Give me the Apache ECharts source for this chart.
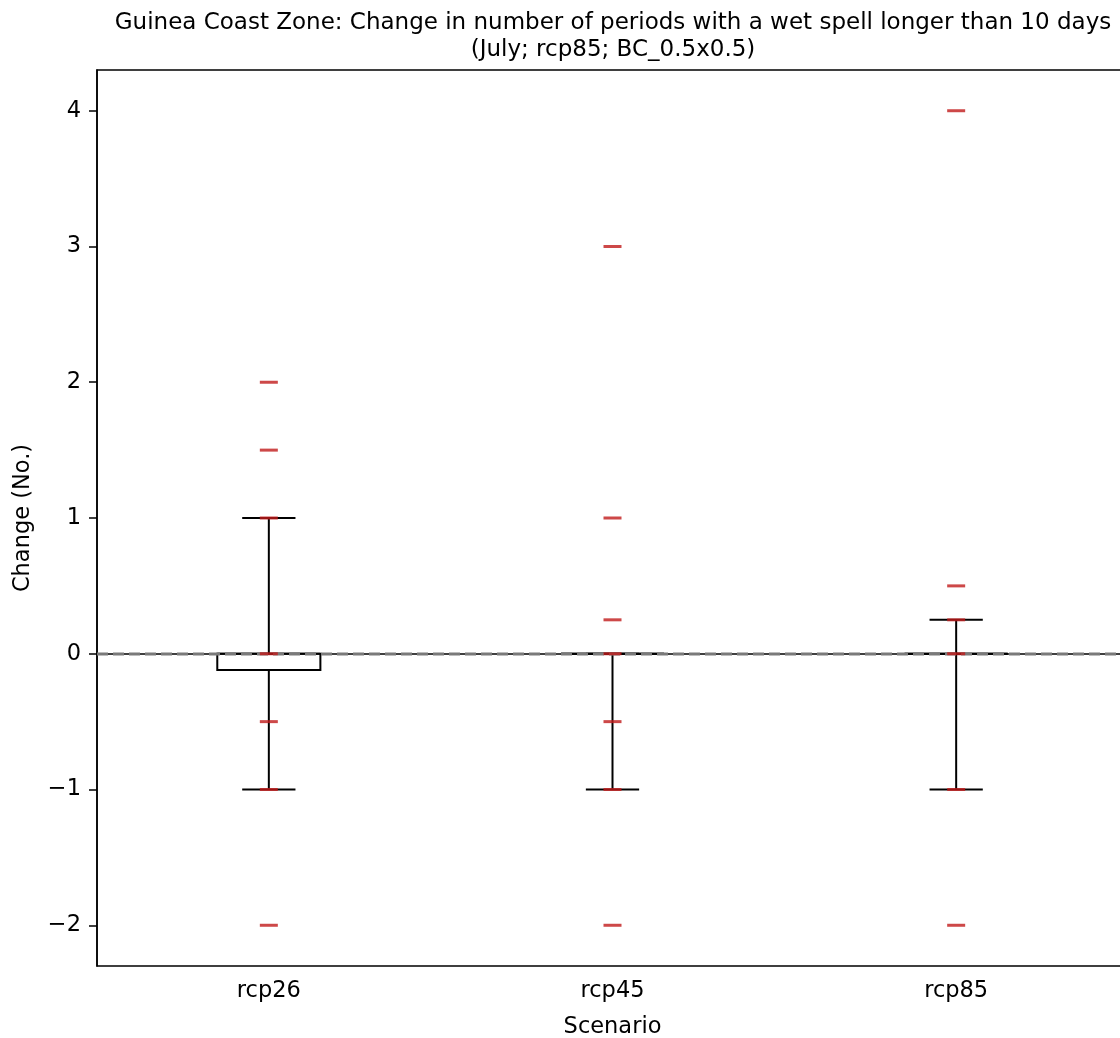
<!DOCTYPE html>
<html>
<head>
<meta charset="utf-8">
<script src="https://cdn.jsdelivr.net/npm/echarts@6/dist/echarts.min.js"></script>
<style>html,body{margin:0;padding:0;background:#fff;overflow:hidden;}#c{width:1120px;height:1038px;}</style>
</head>
<body>
<div id="c"></div>
<script>
// ---- data ----
const categories = ['rcp26', 'rcp45', 'rcp85'];
const whiskerLow = [-1, -1, -1];
const quart1 = [-0.12, 0, 0];
const medians = [0, 0, 0];
const quart3 = [0, 0, 0];
const whiskerHigh = [1, 0, 0.25];
const pointsRcp26 = [2, 1.5, 1, 0, -0.5, -1, -2];
const pointsRcp45 = [3, 1, 0.25, 0, -0.5, -1, -2];
const pointsRcp85 = [4, 0.5, 0.25, 0, -1, -2];
const refLineValue = [0];
const yTicks = [-2, -1, 0, 1, 2, 3, 4];
const titleText = 'Guinea Coast Zone: Change in number of periods with a wet spell longer than 10 days\n(July; rcp85; BC_0.5x0.5)';

// ---- build ----
const boxData = categories.map((c, i) => [i, whiskerLow[i], quart1[i], medians[i], quart3[i], whiskerHigh[i]]);
const pointData = [];
[pointsRcp26, pointsRcp45, pointsRcp85].forEach((arr, i) => arr.forEach(v => pointData.push([i, v])));

const FONT = 'DejaVu Sans';
const chart = echarts.init(document.getElementById('c'), null, {renderer: 'canvas'});

function renderBox(params, api) {
  const xi = api.value(0);
  const pLow = api.coord([xi, api.value(1)]);
  const pQ1 = api.coord([xi, api.value(2)]);
  const pMed = api.coord([xi, api.value(3)]);
  const pQ3 = api.coord([xi, api.value(4)]);
  const pHigh = api.coord([xi, api.value(5)]);
  const band = api.size([1, 0])[0];
  const bw = band * 0.3;
  const cw = band * 0.155;
  const x = pQ1[0];
  const st = {stroke: '#000', lineWidth: 2, fill: null};
  return {
    type: 'group',
    children: [
      {type: 'line', shape: {x1: x, y1: pQ1[1], x2: x, y2: pLow[1]}, style: st},
      {type: 'line', shape: {x1: x, y1: pQ3[1], x2: x, y2: pHigh[1]}, style: st},
      {type: 'line', shape: {x1: x - cw / 2, y1: pLow[1], x2: x + cw / 2, y2: pLow[1]}, style: st},
      {type: 'line', shape: {x1: x - cw / 2, y1: pHigh[1], x2: x + cw / 2, y2: pHigh[1]}, style: st},
      {type: 'rect', shape: {x: x - bw / 2, y: pQ3[1], width: bw, height: pQ1[1] - pQ3[1]}, style: {stroke: '#000', lineWidth: 2, fill: '#fff'}},
      {type: 'line', shape: {x1: x - bw / 2, y1: pMed[1], x2: x + bw / 2, y2: pMed[1]}, style: st}
    ]
  };
}

function renderRefLine(params, api) {
  const cs = params.coordSys;
  const y = Math.round(api.coord([0, api.value(0)])[1]);
  return {
    type: 'line',
    shape: {x1: cs.x, y1: y, x2: cs.x + cs.width, y2: y},
    style: {stroke: '#7a7a7a', lineWidth: 3, lineDash: [11, 5], fill: null}
  };
}

chart.setOption({
  animation: false,
  backgroundColor: '#fff',
  title: {
    text: titleText,
    left: 608, top: 5, textAlign: 'center',
    textStyle: {fontFamily: FONT, fontSize: 23, fontWeight: 'normal', color: '#000', lineHeight: 27}
  },
  grid: {left: 97, right: -8, top: 70, bottom: 72, containLabel: false, outerBoundsMode: 'none',
    show: true, borderColor: '#000', borderWidth: 1.5, backgroundColor: 'transparent'},
  xAxis: {
    type: 'category', data: categories, boundaryGap: true,
    name: 'Scenario', nameLocation: 'middle', nameGap: 50,
    nameTextStyle: {fontFamily: FONT, fontSize: 22.5, color: '#000'},
    axisLine: {lineStyle: {color: '#000', width: 1.5}},
    axisTick: {alignWithLabel: true, length: 8, lineStyle: {color: '#000', width: 1.5}},
    axisLabel: {fontFamily: FONT, fontSize: 22.5, color: '#000', margin: 14},
    splitLine: {show: false}
  },
  yAxis: {
    type: 'value', min: -2.3, max: 4.3,
    name: 'Change (No.)', nameLocation: 'middle', nameGap: 62,
    nameTextStyle: {fontFamily: FONT, fontSize: 22.5, color: '#000'},
    axisLine: {show: true, lineStyle: {color: '#000', width: 1.5}},
    axisTick: {show: true, length: 8, customValues: yTicks, lineStyle: {color: '#000', width: 1.5}},
    axisLabel: {fontFamily: FONT, fontSize: 22.5, color: '#000', margin: 16, customValues: yTicks,
      formatter: v => String(v).replace('-', '\u2212')},
    splitLine: {show: false}
  },
  series: [
    {
      type: 'custom', name: 'box', data: boxData, z: 2,
      encode: {x: 0, y: [1, 2, 3, 4, 5]},
      renderItem: renderBox
    },
    {
      type: 'custom', name: 'zero', data: refLineValue.map(v => [v]), z: 3, silent: true,
      encode: {y: 0},
      renderItem: renderRefLine
    },
    {
      type: 'scatter', name: 'points', data: pointData, z: 4,
      symbol: 'rect', symbolSize: [18, 3],
      itemStyle: {color: '#c01a1a'}
    }
  ]
});
</script>
</body>
</html>
